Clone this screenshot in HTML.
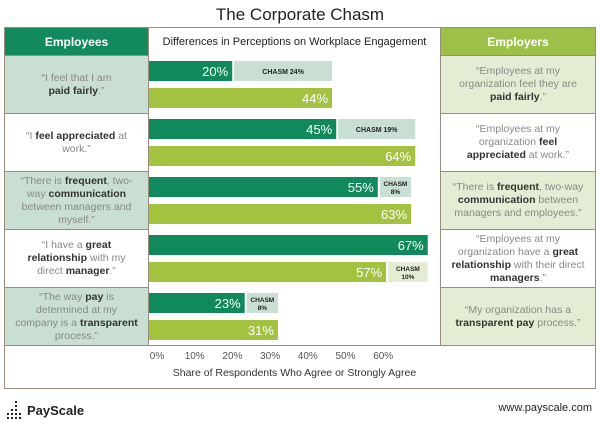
<!DOCTYPE html>
<html><head><meta charset="utf-8"><style>
*{margin:0;padding:0;box-sizing:border-box}
body{width:600px;height:426px;background:#fff;font-family:"Liberation Sans",sans-serif;position:relative;overflow:hidden}
.abs{position:absolute}
.title{left:0;width:600px;top:5px;text-align:center;font-size:17px;color:#222}
.hdr{top:28px;height:27px;display:flex;align-items:center;justify-content:center;font-size:12px;font-weight:bold;color:#fff}
.cell{display:flex;align-items:center;justify-content:center;text-align:center;font-size:10.5px;line-height:13px;color:#888;padding:0 10px;border-top:1px solid #9c8b7d}
.cell b{color:#333}
</style></head><body>
<div class="abs title">The Corporate Chasm</div>
<div class="abs" style="left:4px;top:27px;width:592px;height:362px;border:1px solid #9c8b7d"></div>
<div class="abs hdr" style="left:5px;width:143px;background:#138a5e">Employees</div>
<div class="abs hdr" style="left:149px;width:291px;color:#222;font-weight:normal;font-size:11px">Differences in Perceptions on Workplace Engagement</div>
<div class="abs hdr" style="left:441px;width:154px;background:#9dc048">Employers</div>
<div class="abs" style="left:148px;top:28px;width:1px;height:317px;background:#9c8b7d"></div>
<div class="abs" style="left:440px;top:28px;width:1px;height:317px;background:#9c8b7d"></div>
<div class="abs" style="left:5px;top:345px;width:590px;height:1px;background:#9c8b7d"></div>

<div class="abs cell" style="left:5px;top:55px;width:143px;height:58px;background:#c9dfd4"><span>“I feel that I am<br><b>paid fairly</b>.”</span></div>
<div class="abs cell" style="left:5px;top:113px;width:143px;height:58px"><span>“I <b>feel appreciated</b> at<br>work.”</span></div>
<div class="abs cell" style="left:5px;top:171px;width:143px;height:58px;background:#c9dfd4"><span>“There is <b>frequent</b>, two-way <b>communication</b> between managers and myself.”</span></div>
<div class="abs cell" style="left:5px;top:229px;width:143px;height:58px"><span>“I have a <b>great relationship</b> with my direct <b>manager</b>.”</span></div>
<div class="abs cell" style="left:5px;top:287px;width:143px;height:58px;background:#c9dfd4"><span>“The way <b>pay</b> is determined at my company is a <b>transparent</b> process.”</span></div>

<div class="abs cell" style="left:441px;top:55px;width:154px;height:58px;background:#e4edd3"><span>“Employees at my organization feel they are <b>paid fairly</b>.”</span></div>
<div class="abs cell" style="left:441px;top:113px;width:154px;height:58px"><span>“Employees at my organization <b>feel appreciated</b> at work.”</span></div>
<div class="abs cell" style="left:441px;top:171px;width:154px;height:58px;background:#e4edd3"><span>“There is <b>frequent</b>, two-way <b>communication</b> between managers and employees.”</span></div>
<div class="abs cell" style="left:441px;top:229px;width:154px;height:58px"><span>“Employees at my organization have a <b>great relationship</b> with their direct <b>managers</b>.”</span></div>
<div class="abs cell" style="left:441px;top:287px;width:154px;height:58px;background:#e4edd3"><span>“My organization has a <b>transparent pay</b> process.”</span></div>

<svg class="abs" style="left:0;top:0" width="600" height="426" id="chart"></svg>

<div class="abs" style="left:149px;width:291px;top:367px;text-align:center;font-size:10.5px;color:#333">Share of Respondents Who Agree or Strongly Agree</div>
<div class="abs" style="left:6px;top:400px;font-size:13px;font-weight:bold;color:#222;display:flex;align-items:center">
<svg width="18" height="20"><g fill="#222"><rect x="9" y="1" width="2" height="2"/><rect x="9" y="5" width="2" height="2"/><rect x="5" y="9" width="2" height="2"/><rect x="9" y="9" width="2" height="2"/><rect x="1" y="13" width="2" height="2"/><rect x="5" y="13" width="2" height="2"/><rect x="9" y="13" width="2" height="2"/><rect x="13" y="13" width="2" height="2"/><rect x="1" y="17" width="2" height="2"/><rect x="5" y="17" width="2" height="2"/><rect x="9" y="17" width="2" height="2"/><rect x="13" y="17" width="2" height="2"/></g></svg>
<span style="margin-left:3px">PayScale</span></div>
<div class="abs" style="right:8px;top:402px;font-size:11px;color:#222">www.payscale.com</div>

<script>
const employeeValues=[20,45,55,67,23];
const employerValues=[44,64,63,57,31];
const chasmValues=[24,19,8,10,8];
const tickLabels=["0%","10%","20%","30%","40%","50%","60%"];
const svg=document.getElementById('chart');
const NS='http://www.w3.org/2000/svg';
const x0=149,k=4.16;
function xs(v){return x0+v*k;}
function tickX(i){return 157+i*37.7;}
function rowTop(i){return 55+i*58;}
function mk(tag,attrs){const e=document.createElementNS(NS,tag);for(const a in attrs)e.setAttribute(a,attrs[a]);svg.appendChild(e);return e;}
employeeValues.forEach((v,i)=>{
  const y=rowTop(i)+6,h=20;
  const r=mk('rect',{x:x0,y:y,width:xs(v)-x0,height:h,fill:'#10895b'});
  
  
  const t=mk('text',{x:xs(v)-4,y:y+15,'text-anchor':'end','font-size':13,fill:'#fff','font-family':'Liberation Sans'});
  t.textContent=v+'%';
  
  
  const e=employerValues[i];
  const y2=rowTop(i)+33;
  const r2=mk('rect',{x:x0,y:y2,width:xs(e)-x0,height:h,fill:'#a3c23f'});
  
  
  const t2=mk('text',{x:xs(e)-4,y:y2+15,'text-anchor':'end','font-size':13,fill:'#fff','font-family':'Liberation Sans'});
  t2.textContent=e+'%';
  
  
  const c=chasmValues[i];
  const onEmp=e<v;
  const base=onEmp?e:v, cy=onEmp?y2:y;
  const cx=xs(base)+2, cw=c*k-2;
  const cr=mk('rect',{x:cx,y:cy,width:cw,height:h,fill:onEmp?'#e4edd3':'#c9dfd4'});
  
  
  if(cw>55){
    const ct=mk('text',{x:cx+cw/2,y:cy+13,'text-anchor':'middle','font-size':7,'font-weight':'bold',fill:'#222','font-family':'Liberation Sans'});
    ct.textContent='CHASM '+c+'%';
    
    
  }else{
    const ct=mk('text',{x:cx+cw/2,y:cy+9,'text-anchor':'middle','font-size':6.5,'font-weight':'bold',fill:'#222','font-family':'Liberation Sans'});
    ct.textContent='CHASM';
    
    
    const ct2=mk('text',{x:cx+cw/2,y:cy+17,'text-anchor':'middle','font-size':6.5,'font-weight':'bold',fill:'#222','font-family':'Liberation Sans'});
    ct2.textContent=c+'%';
    
    
  }
});
tickLabels.forEach((l,i)=>{
  const t=mk('text',{x:tickX(i),y:359,'text-anchor':'middle','font-size':10,fill:'#555','font-family':'Liberation Sans'});
  t.textContent=l;
  
  
});
</script>
</body></html>
